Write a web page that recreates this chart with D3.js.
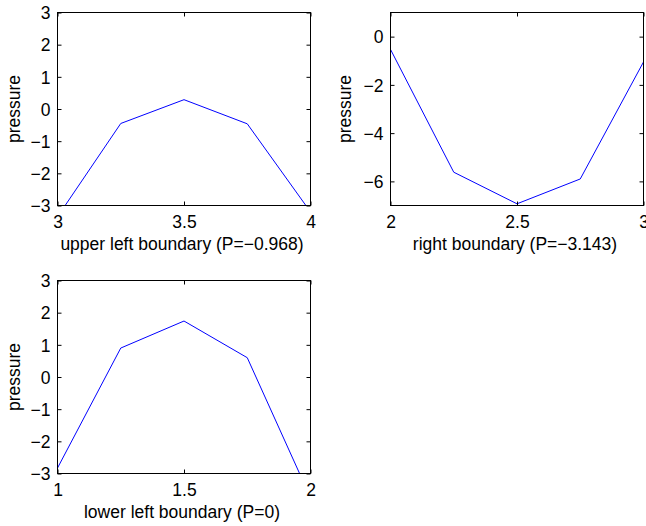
<!DOCTYPE html>
<html lang="en">
<head>
  <meta charset="UTF-8">
  <title>Boundary pressure</title>
  <style>
  body { margin: 0; background: #fff; }
  #paper { width: 646px; height: 526px; }
  text { font-family: "Liberation Sans", Arial, sans-serif; fill: #000; }
  </style>
</head>
<body>
  <div id="paper"></div>
  <script src="https://cdn.jsdelivr.net/npm/d3@7"></script>
  <script>

// data
const upperX = [3, 3.25, 3.5, 3.75, 4]
const upperP = [-3.35, -0.45, 0.29, -0.46, -3.2]

const rightX = [2, 2.25, 2.5, 2.75, 3]
const rightP = [-0.53, -5.62, -6.93, -5.9, -1.05]

const lowerX = [1, 1.25, 1.5, 1.75, 2]
const lowerP = [-2.83, 0.9, 1.74, 0.6, -3.75]

const upperXTicks = [3, 3.5, 4]
const rightXTicks = [2, 2.5, 3]
const lowerXTicks = [1, 1.5, 2]
const pTicks3 = [-3, -2, -1, 0, 1, 2, 3]
const pTicksRight = [-6, -4, -2, 0]

const panels = [
  { id: 'ul', xs: upperX, ys: upperP, xdom: [3, 4], ydom: [-3, 3], xticks: upperXTicks, yticks: pTicks3,
    box: [57.5, 12.5, 310.5, 205.5], ylabX: 20, xlabel: 'upper left boundary (P=\u22120.968)' },
  { id: 'r', xs: rightX, ys: rightP, xdom: [2, 3], ydom: [-7, 1], xticks: rightXTicks, yticks: pTicksRight,
    box: [390.5, 12.5, 643.5, 205.5], ylabX: 351, xlabel: 'right boundary (P=\u22123.143)' },
  { id: 'll', xs: lowerX, ys: lowerP, xdom: [1, 2], ydom: [-3, 3], xticks: lowerXTicks, yticks: pTicks3,
    box: [57.5, 280.5, 310.5, 473.5], ylabX: 20, xlabel: 'lower left boundary (P=0)' }
]

const svg = d3.select('#paper').append('svg')
    .attr('width', 646)
    .attr('height', 526)

const fmt = d3.format('')
const tickLen = 4
const fs = '17.5px'

panels.forEach(p => {
  const [x0, y0, x1, y1] = p.box
  const x = d3.scaleLinear().domain(p.xdom).range([x0, x1])
  const y = d3.scaleLinear().domain(p.ydom).range([y1, y0])

  const g = svg.append('g')

  svg.append('clipPath').attr('id', 'clip-' + p.id)
    .append('rect').attr('x', x0).attr('y', y0).attr('width', x1 - x0).attr('height', y1 - y0)

  const line = d3.line().x((d, i) => x(p.xs[i])).y(d => y(d))
  g.append('path')
      .datum(p.ys)
      .attr('clip-path', 'url(#clip-' + p.id + ')')
      .attr('fill', 'none')
      .attr('stroke', '#0000ff')
      .attr('stroke-width', 1)
      .attr('d', line)

  // inward ticks on all four sides, MATLAB style
  const axB = d3.axisBottom(x).tickValues(p.xticks).tickSizeInner(-tickLen).tickSizeOuter(0).tickFormat(fmt)
  const axT = d3.axisTop(x).tickValues(p.xticks).tickSizeInner(-tickLen).tickSizeOuter(0).tickFormat('')
  const axL = d3.axisLeft(y).tickValues(p.yticks).tickSizeInner(-tickLen).tickSizeOuter(0).tickPadding(7).tickFormat(fmt)
  const axR = d3.axisRight(y).tickValues(p.yticks).tickSizeInner(-tickLen).tickSizeOuter(0).tickFormat('')

  const gb = g.append('g').attr('transform', `translate(0,${y1})`).call(axB)
  const gt = g.append('g').attr('transform', `translate(0,${y0})`).call(axT)
  const gl = g.append('g').attr('transform', `translate(${x0},0)`).call(axL)
  const gr = g.append('g').attr('transform', `translate(${x1},0)`).call(axR)

  ;[gb, gt, gl, gr].forEach(a => {
    a.select('.domain').remove()
    a.selectAll('line').attr('stroke', '#000')
    a.selectAll('text').style('font-size', fs).attr('fill', '#000')
  })
  gb.selectAll('text').attr('dy', null).attr('y', 22)
  gl.selectAll('text').attr('dy', '0.36em')

  g.append('rect')
      .attr('x', x0).attr('y', y0)
      .attr('width', x1 - x0).attr('height', y1 - y0)
      .attr('fill', 'none')
      .attr('stroke', '#000')
      .attr('stroke-width', 1)

  g.append('text')
      .attr('x', (x0 + x1) / 2 - 2)
      .attr('y', y1 + 44)
      .attr('text-anchor', 'middle')
      .style('font-size', fs)
      .text(p.xlabel)

  g.append('text')
      .attr('transform', `translate(${p.ylabX},${(y0 + y1) / 2}) rotate(-90)`)
      .attr('text-anchor', 'middle')
      .style('font-size', fs)
      .text('pressure')
})

  </script>
</body>
</html>
